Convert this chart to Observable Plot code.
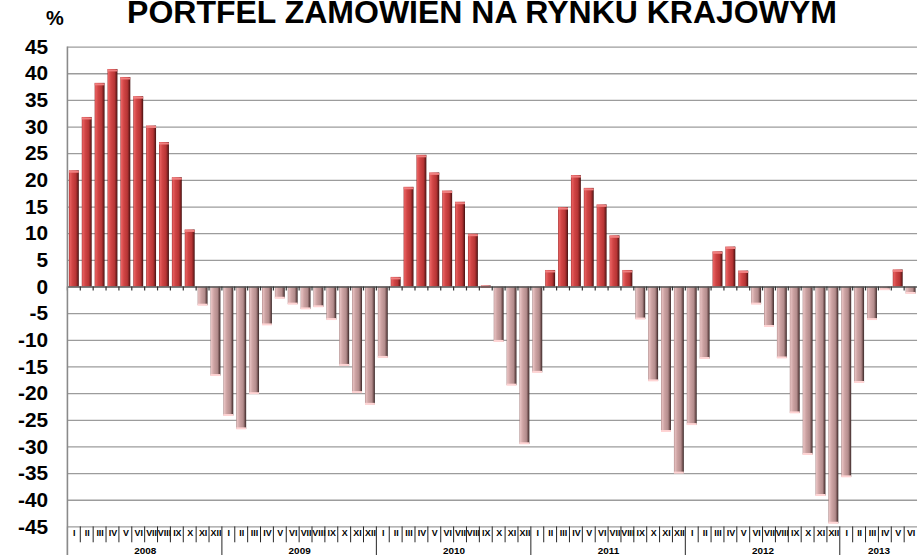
<!DOCTYPE html>
<html><head><meta charset="utf-8">
<script src="https://cdn.jsdelivr.net/npm/d3@7"></script>
<script src="https://cdn.jsdelivr.net/npm/@observablehq/plot@0.6"></script>
<style>
html,body{margin:0;padding:0;background:#fff;overflow:hidden}
#wrap{position:relative;width:922px;height:560px;overflow:hidden;font-family:"Liberation Sans",Arial,sans-serif}
#title{position:absolute;left:0;top:-4px;width:964px;text-align:center;font-size:32px;line-height:32px;font-weight:bold;color:#000;white-space:nowrap}
#unit{position:absolute;left:46px;top:6px;font-size:20px;font-weight:bold;line-height:24px}
#chart{position:absolute;left:0;top:0}
</style></head><body>
<div id="wrap"><div id="chart"></div><div id="title">PORTFEL ZAMÓWIEŃ NA RYNKU KRAJOWYM</div><div id="unit">%</div></div>
<script>
const years = ["2008", "2009", "2010", "2011", "2012", "2013"];
const monthsPerYear = [12, 12, 12, 12, 12, 6];
const monthNames = ["I", "II", "III", "IV", "V", "VI", "VII", "VIII", "IX", "X", "XI", "XII"];
const yTicks = [-45, -40, -35, -30, -25, -20, -15, -10, -5, 0, 5, 10, 15, 20, 25, 30, 35, 40, 45];

const values2008 = [21.8, 31.8, 38.2, 40.8, 39.3, 35.7, 30.2, 27.1, 20.5, 10.7, -3.5, -16.7];
const values2009 = [-24.2, -26.7, -20.1, -7.2, -2.2, -3.3, -4.2, -3.8, -6.2, -14.8, -19.9, -22.1];
const values2010 = [-13.3, 1.8, 18.7, 24.7, 21.4, 18.0, 15.9, 9.9, 0.2, -10.3, -18.5, -29.5];
const values2011 = [-16.1, 3.1, 14.9, 20.9, 18.5, 15.4, 9.6, 3.1, -6.1, -17.7, -27.2, -35.0];
const values2012 = [-25.9, -13.5, 6.6, 7.5, 3.0, -3.3, -7.5, -13.4, -23.7, -31.5, -39.2, -44.4];
const values2013 = [-35.7, -18.0, -6.2, -0.6, 3.2, -1.3];
const valuesByYear = [values2008, values2009, values2010, values2011, values2012, values2013];

const rows = [];
years.forEach((yr, yi) => {
  for (let m = 0; m < monthsPerYear[yi]; m++) {
    rows.push({key: yr + "-" + (m + 1), year: yr, m, month: monthNames[m], v: valuesByYear[yi][m]});
  }
});
const keys = rows.map(d => d.key);
const pos = rows.filter(d => d.v >= 0);
const neg = rows.filter(d => d.v < 0);
const yearLabels = years.map((yr, yi) => {
  const n = monthsPerYear[yi];
  return {key: yr + "-" + (Math.floor((n - 1) / 2) + 1), year: yr};
});

const W = 930, H = 560, ML = 68, MR = 5, MT = 47, MB = 29;
const step = (W - ML - MR) / keys.length;
const font = "Liberation Sans, Arial, Helvetica, sans-serif";

function axisTable(index, scales, values, dims) {
  const x = scales.x, y = scales.y;
  const st = x.step(), bw = x.bandwidth();
  const yBottom = y(yTicks[0]);
  const y0 = y(0);
  const g = d3.create("svg:g");
  rows.forEach(r => {
    const bx = x(r.key) + bw / 2 - st / 2;
    g.append("line").attr("x1", bx).attr("x2", bx)
      .attr("y1", yBottom).attr("y2", r.m === 0 ? dims.height : yBottom + 16)
      .attr("stroke", "#222").attr("stroke-width", 1);
    g.append("line").attr("x1", bx).attr("x2", bx)
      .attr("y1", y0).attr("y2", y0 + 4)
      .attr("stroke", "#333").attr("stroke-width", 1.2);
  });
  g.append("line").attr("x1", dims.marginLeft).attr("x2", dims.marginLeft)
    .attr("y1", y(yTicks[yTicks.length - 1])).attr("y2", dims.height)
    .attr("stroke", "#8a8a8a").attr("stroke-width", 1.6);
  return g.node();
}

const chart = Plot.plot({
  width: W, height: H,
  marginTop: MT, marginBottom: MB, marginLeft: ML, marginRight: MR,
  style: {fontFamily: font, background: "white", color: "#000"},
  x: {type: "band", domain: keys, paddingInner: 0.23, paddingOuter: 0.115, axis: null},
  y: {domain: [-45, 45], axis: null},
  marks: [
    Plot.ruleY(yTicks.filter(d => d !== 0), {stroke: "#9c9c9c", strokeWidth: 1.3}),
    Plot.barY(pos, {x: "key", y: "v", fill: "url(#gPos)"}),
    Plot.barY(neg, {x: "key", y: "v", fill: "url(#gNeg)"}),
    Plot.tickY(pos, {x: "key", y: "v", stroke: "#f08080", strokeWidth: 2, dy: 1}),
    Plot.tickY(neg, {x: "key", y: "v", stroke: "#ffd4d4", strokeWidth: 2, dy: -1}),
    Plot.ruleY([0], {stroke: "#555", strokeWidth: 1.5}),
    Plot.axisY({ticks: yTicks, label: null, tickSize: 0, tickPadding: 20, fontSize: 21, fontWeight: "bold", tickFormat: d => String(d), anchor: "left", fill: "#000"}),
    Plot.text(rows, {x: "key", text: "month", frameAnchor: "bottom", dy: 6, lineAnchor: "middle", fontSize: 9, fontWeight: "bold", fill: "#000"}),
    Plot.text(yearLabels, {x: "key", text: "year", frameAnchor: "bottom", dy: 24, dx: step / 2, lineAnchor: "middle", fontSize: 10, fontWeight: "bold", fill: "#000"}),
    axisTable
  ]
});

const defs = d3.select(chart).insert("defs", ":first-child");
function grad(id, stops) {
  const lg = defs.append("linearGradient").attr("id", id).attr("x1", "0").attr("x2", "1").attr("y1", "0").attr("y2", "0");
  stops.forEach(([o, c]) => lg.append("stop").attr("offset", o).attr("stop-color", c));
}
grad("gPos", [["0%", "#9a2a2a"], ["10%", "#e86060"], ["35%", "#d04545"], ["70%", "#b83535"], ["88%", "#7a2020"], ["100%", "#401010"]]);
grad("gNeg", [["0%", "#a88282"], ["10%", "#e6c0c0"], ["35%", "#cca2a2"], ["70%", "#b38c8c"], ["88%", "#705050"], ["100%", "#352626"]]);

document.getElementById("chart").appendChild(chart);
</script>
</body></html>
